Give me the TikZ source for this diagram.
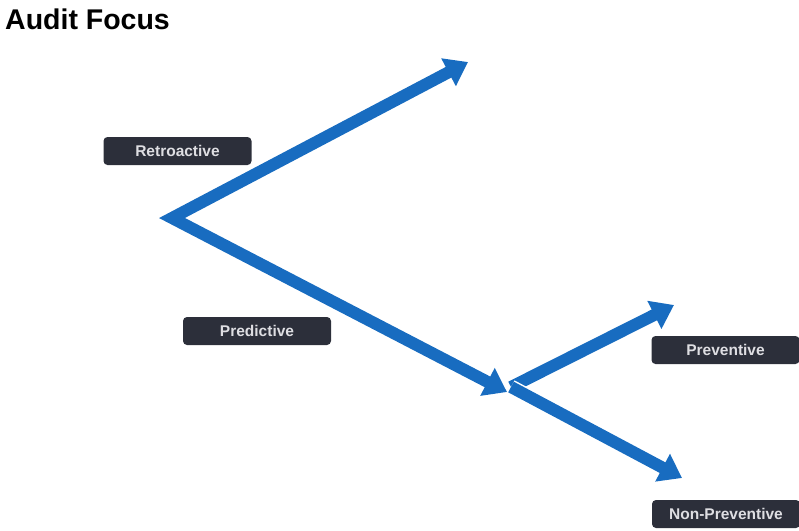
\documentclass[tikz,border=0pt]{standalone}
\usepackage{fontspec}
\setmainfont{Liberation Sans}
\usetikzlibrary{arrows.meta,calc}
\definecolor{arrowblue}{RGB}{24,108,192}
\definecolor{boxdark}{RGB}{44,47,58}
\definecolor{boxtext}{RGB}{222,222,226}
\tikzset{
  label box/.style={fill=boxdark, rounded corners=4pt, minimum width=148pt, minimum height=28pt,
    inner sep=0pt, text=boxtext, font=\fontsize{15.5}{17}\selectfont\bfseries},
  flow/.style={draw=arrowblue, line width=12pt, line join=miter, miter limit=10,
    -{Triangle[length=22pt,width=30pt]}},
  flowgap/.style={draw=white, line width=15pt}
}
\begin{document}
\begin{tikzpicture}[x=1pt,y=-1pt]
\useasboundingbox (0,0) rectangle (799,530);
\node[anchor=north west, inner sep=0pt, font=\fontsize{28.5}{31}\selectfont\bfseries] (title) at (5,9) {Audit Focus};

\coordinate (v) at (172,218);
\coordinate (up) at (468,62);
\coordinate (j) at (507,392);
\coordinate (js) at (511,387);
\coordinate (prev) at (674,305);
\coordinate (nonprev) at (682,478);

\draw[draw=arrowblue, line width=12pt, line join=miter, miter limit=10,
  {Triangle[length=22pt,width=30pt]}-{Triangle[length=22pt,width=30pt]}] (up) -- (v) -- (j);

\draw[flowgap] (js) -- ($(js)!0.15!(prev)$);
\draw[flow] (js) -- (prev);
\draw[flowgap] (js) -- ($(js)!0.1!(nonprev)$);
\draw[flow] (js) -- (nonprev);

\node[label box] (retro) at (177.5,151) {Retroactive};
\node[label box] (pred) at (257,331) {Predictive};
\node[label box] (prevbox) at (725.5,350) {Preventive};
\node[label box] (nonprevbox) at (726,514) {Non-Preventive};
\end{tikzpicture}
\end{document}
